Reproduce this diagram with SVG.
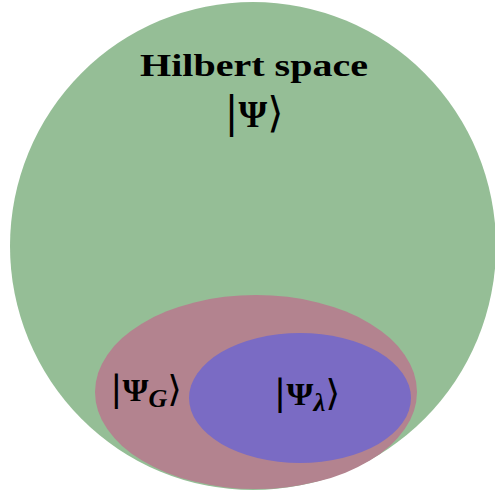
<svg xmlns="http://www.w3.org/2000/svg" width="495" height="496" viewBox="0 0 495 496">
<style>
.t{font-family:"Liberation Serif","DejaVu Serif",serif;font-weight:bold;fill:#000}
.d{font-family:"DejaVu Serif","Liberation Serif",serif;font-weight:normal;fill:#000}
.i{font-family:"Liberation Serif","DejaVu Serif",serif;font-style:italic;font-weight:bold;fill:#000}
</style>
<rect width="495" height="496" fill="#fff"/>
<g id="hilbert">
<ellipse cx="253" cy="246" rx="243" ry="244" fill="#95be96"/>
<text class="t" x="254" y="76" font-size="31" text-anchor="middle" textLength="228" lengthAdjust="spacingAndGlyphs">Hilbert space</text>
<text x="254" y="127" text-anchor="middle" textLength="59" lengthAdjust="spacingAndGlyphs"><tspan class="d" font-size="42">|</tspan><tspan class="t" font-size="37">Ψ</tspan><tspan class="d" font-size="42">⟩</tspan></text>
</g>
<g id="psiG">
<ellipse cx="256" cy="392" rx="161" ry="97" fill="#b3838f"/>
<text x="146" y="401" text-anchor="middle" textLength="72" lengthAdjust="spacingAndGlyphs"><tspan class="d" font-size="36">|</tspan><tspan class="t" font-size="32">Ψ</tspan><tspan class="i" font-size="25" dy="6">G</tspan><tspan class="d" font-size="36" dy="-6">⟩</tspan></text>
</g>
<g id="psiLambda">
<ellipse cx="300" cy="398" rx="111" ry="65" fill="#7a6bc4"/>
<text x="307" y="405" text-anchor="middle" textLength="67" lengthAdjust="spacingAndGlyphs"><tspan class="d" font-size="36">|</tspan><tspan class="t" font-size="32">Ψ</tspan><tspan class="i" font-size="25" dy="6">λ</tspan><tspan class="d" font-size="36" dy="-6">⟩</tspan></text>
</g>
<g id="connectors"/>
</svg>
